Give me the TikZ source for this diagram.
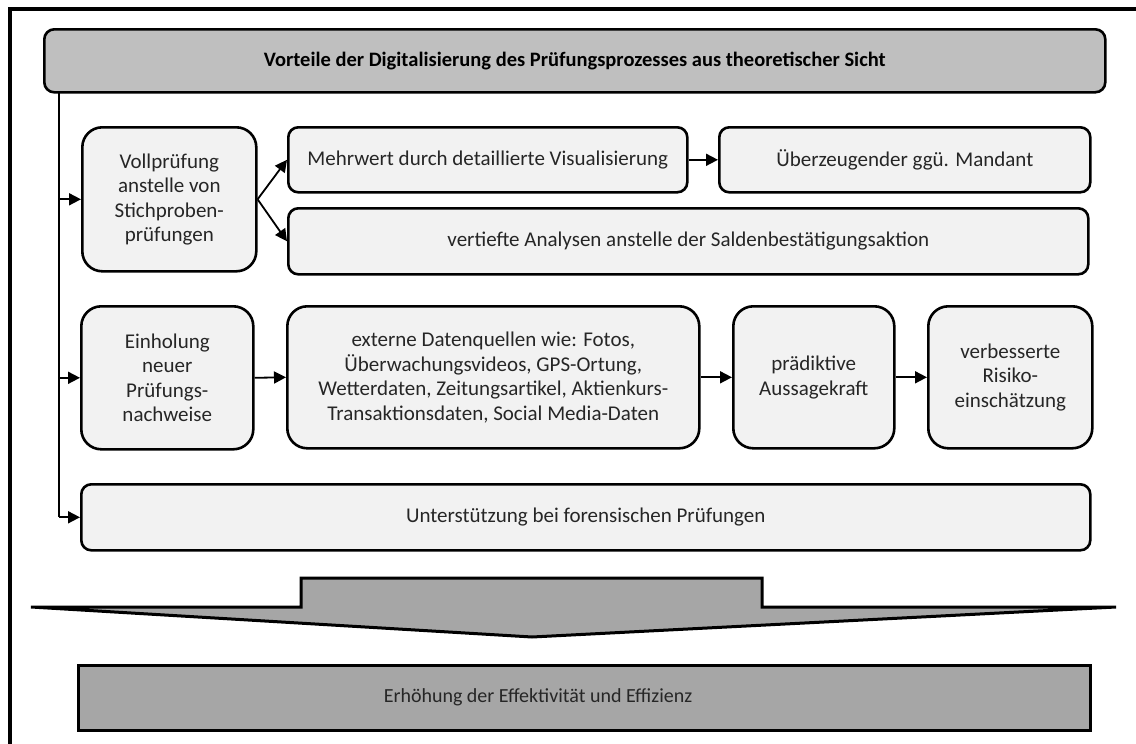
\documentclass[tikz,border=0pt]{standalone}
\usepackage{fontspec}
\setmainfont{Carlito}
\usetikzlibrary{arrows.meta}
\definecolor{boxfill}{HTML}{F2F2F2}
\definecolor{headfill}{HTML}{BFBFBF}
\definecolor{darkfill}{HTML}{A6A6A6}
\definecolor{txt}{HTML}{262626}
\begin{document}
\begin{tikzpicture}[x=1pt,y=-1pt,
  card/.style={draw=black, line width=2.6pt, fill=boxfill, rounded corners=10pt,
    text=txt, align=center, inner sep=0pt, anchor=north west,
    font=\fontsize{21}{24.5}\selectfont},
  bigcard/.style={card, rounded corners=20pt},
  header/.style={card, fill=headfill, text=black,
    font=\bfseries\fontsize{20.5}{24}\selectfont},
  result/.style={draw=black, line width=3pt, fill=darkfill, inner sep=0pt,
    anchor=north west},
  arr/.style={line width=1.8pt, -{Triangle[length=12pt,width=12pt]}},
  frameline/.style={line width=4pt}]
\useasboundingbox (0,0) rectangle (1136,744);

% outer frame (only its top and left edges fall inside the page)
\draw[frameline] (10,760) -- (10,9) -- (1150,9);

% heading
\node[header, minimum width=1061pt, minimum height=63pt] (head) at (43,28)
  {Vorteile der Digitalisierung des Prüfungsprozesses aus theoretischer Sicht};

% first row
\node[bigcard, minimum width=174pt, minimum height=144pt] (voll) at (81,126)
  {Vollprüfung\\anstelle von\\Stichproben-\\prüfungen};
\node[card, minimum width=399pt, minimum height=65pt] (mehr) at (287,126)
  {Mehrwert durch detaillierte Visualisierung};
\node[card, minimum width=371pt, minimum height=65pt] (ueber) at (718,126)
  {Überzeugender ggü. Mandant};
\node[card, minimum width=800pt, minimum height=66pt] (vert) at (287,207)
  {vertiefte Analysen anstelle der Saldenbestätigungsaktion};

% second row
\node[bigcard, minimum width=172pt, minimum height=143pt] (einh) at (80,305)
  {Einholung\\neuer\\Prüfungs-\\nachweise};
\node[bigcard, minimum width=412pt, minimum height=142pt] (ext) at (286,305)
  {externe Datenquellen wie: Fotos,\\Überwachungsvideos, GPS-Ortung,\\Wetterdaten, Zeitungsartikel, Aktienkurs-\\Transaktionsdaten, Social Media-Daten};
\node[bigcard, minimum width=161pt, minimum height=142pt] (praed) at (732,305)
  {prädiktive\\Aussagekraft};
\node[bigcard, minimum width=164pt, minimum height=142pt] (risk) at (927,305)
  {verbesserte\\Risiko-\\einschätzung};

% third row
\node[card, minimum width=1009pt, minimum height=66pt] (forens) at (80,483)
  {Unterstützung bei forensischen Prüfungen};

% branch line from the heading
\coordinate (trunk) at (59,91);
\draw[line width=1.8pt] (trunk) -- (trunk |- forens.west);
\draw[arr] (trunk |- voll.west) -- (voll.west);
\draw[arr] (trunk |- einh.west) -- (einh.west);
\draw[arr] (trunk |- forens.west) -- (forens.west);

% connectors
\draw[arr] (voll.east) -- (mehr.west);
\draw[arr] (voll.east) -- (vert.west);
\draw[arr] (mehr.east) -- (ueber.west);
\draw[arr] (einh.east) -- (ext.west);
\draw[arr] (ext.east) -- (praed.west);
\draw[arr] (praed.east) -- (risk.west);

% wide downward arrow
\draw[line width=3pt, line join=miter, fill=darkfill]
  (31,607) -- (301,607) -- (301,578) -- (762,578) -- (762,607)
  -- (1116,607) -- (532,637) -- cycle;

% outcome
\node[result, minimum width=1012pt, minimum height=65pt] (outcome) at (77,664) {};
\node[text=txt, font=\fontsize{20}{24}\selectfont] (outcometext) at (538,697)
  {Erhöhung der Effektivität und Effizienz};
\end{tikzpicture}
\end{document}
